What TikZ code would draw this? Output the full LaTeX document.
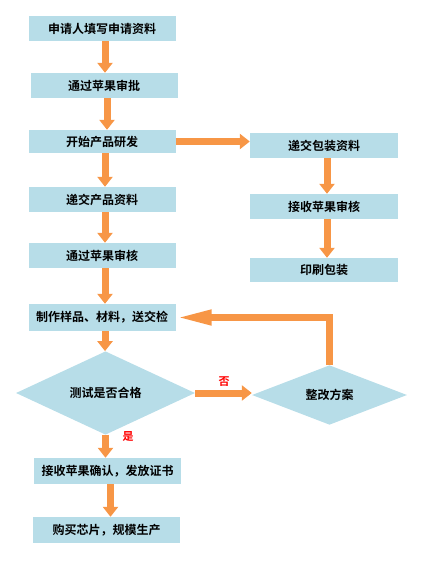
\documentclass[tikz,border=0pt]{standalone}
\usepackage{fontspec}
\newfontfamily\cjk{Noto Sans CJK SC}[BoldFont={Noto Sans CJK SC Bold}]
\usetikzlibrary{arrows.meta,shapes.geometric}
\definecolor{boxblue}{RGB}{183,221,232}
\definecolor{flowor}{RGB}{247,150,70}
\tikzset{
    box/.style={fill=boxblue, inner sep=0pt, minimum width=147pt, minimum height=25pt, font=\cjk\bfseries\fontsize{12}{14}\selectfont},
    dia/.style={box, diamond, minimum width=179pt, minimum height=60pt},
    flow/.style={draw=flowor, line width=7pt, -{Triangle[length=10pt,width=15pt]}},
    yesno/.style={text=red, font=\cjk\bfseries\fontsize{11}{13}\selectfont}
}
\begin{document}
\begin{tikzpicture}[x=1pt,y=-1pt]
            \useasboundingbox (0,0) rectangle (445,569);
            \node[box] (b1) at (102,28.5) {申请人填写申请资料};
            \node[box] (b2) at (104,85.5) {通过苹果审批};
            \node[box, minimum height=23pt] (b3) at (102,141.5) {开始产品研发};
            \node[box] (b4) at (102,199.5) {递交产品资料};
            \node[box] (b5) at (102,255.5) {通过苹果审核};
            \node[box, minimum height=27pt] (b6) at (102,317.5) {制作样品、材料，送交检};
            \node[dia] (d1) at (105.5,393) {测试是否合格};
            \node[dia, minimum width=155pt, minimum height=58pt] (d2) at (329.5,395) {整改方案};
            \node[box, minimum height=26pt] (b7) at (107.5,471) {接收苹果确认，发放证书};
            \node[box, minimum height=26pt] (b8) at (106.5,530) {购买芯片，规模生产};
            \node[box, minimum width=148pt] (r1) at (324,145.5) {递交包装资料};
            \node[box, minimum width=148pt] (r2) at (324,206.5) {接收苹果审核};
            \node[box, minimum width=148pt, minimum height=24pt] (r3) at (324,270) {印刷包装};
            \foreach \a/\b in {b1/b2,b2/b3,b3/b4,b4/b5,b5/b6,b6/d1,b7/b8,r1/r2,r2/r3}
            \draw[flow] ([xshift=3pt]\a.south) -- ([xshift=3pt]\a.south |- \b.north);
            \draw[flow] (d1.south) -- (d1.south |- b7.north);
            \draw[flow] (b3.east) -- (b3.east -| r1.west);
            \draw[flow] (d1.east) -- (d1.east -| d2.west);
            \draw[flow, -{Triangle[length=36pt,width=14pt]}] (d2.north) |- (b6.east);
            \node[yesno] (no) at (224,382) {否};
            \node[yesno] (yes) at (128,437) {是};
        \end{tikzpicture}
\end{document}
